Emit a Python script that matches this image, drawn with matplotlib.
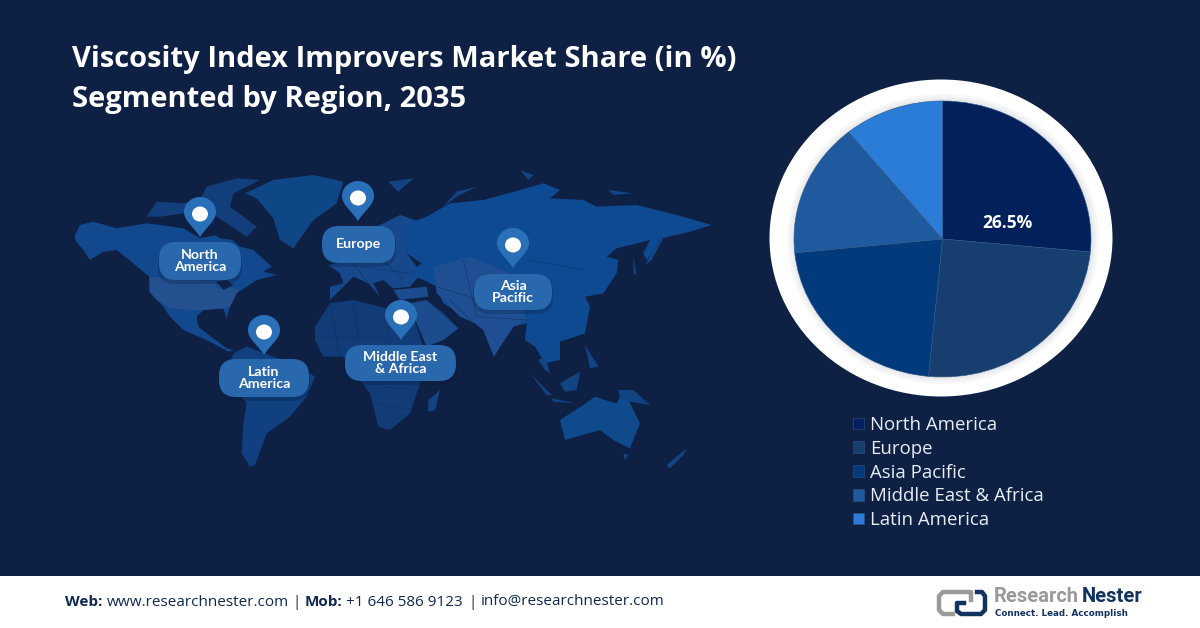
import matplotlib
matplotlib.use("Agg")
import matplotlib.pyplot as plt
from matplotlib.patches import Ellipse, FancyBboxPatch, PathPatch, Polygon, Rectangle
from matplotlib.path import Path

# pie data
regions = ["North America", "Europe", "Asia Pacific", "Middle East & Africa", "Latin America"]
shares = [26.5, 25.0, 21.9, 15.7, 10.9]
pie_colors = ["#02215a", "#163e6e", "#033a7c", "#1f5a9f", "#2a7cd6"]

title_lines = ["Viscosity Index Improvers Market Share (in %)", "Segmented by Region, 2035"]

# map pins: label, pin tip x, tip y, box left, top, right, bottom
pins = [
    ("North\nAmerica", 200, 237, 159, 242, 241, 280),
    ("Europe", 358, 221, 322, 226, 395, 263),
    ("Asia\nPacific", 513, 268, 474, 274, 552, 310),
    ("Latin\nAmerica", 264, 355, 219, 359, 309, 397),
    ("Middle East\n& Africa", 401, 340, 345, 345, 456, 381),
]

# rough outlines traced from 3x crops of the map; west crop starts at x=60, mid at x=310, east at x=470
west_canada = [(45, 225), (60, 195), (100, 185), (170, 205), (260, 190), (300, 195), (370, 205), (420, 235), (470, 225),
               (510, 235), (540, 260), (580, 270), (635, 320), (610, 335), (650, 345), (590, 360), (530, 400), (510, 440),
               (500, 475), (490, 445), (430, 450), (410, 470), (415, 500), (440, 520), (500, 565), (520, 570), (505, 575),
               (440, 540), (370, 510), (330, 470), (310, 440), (270, 395), (268, 350), (220, 310), (170, 270), (130, 275),
               (90, 300), (70, 270), (45, 240)]
west_usa = [(268, 350), (465, 365), (470, 385), (540, 385), (530, 400), (510, 440), (495, 445), (430, 450), (400, 450),
            (330, 445), (290, 420), (268, 395)]
west_arctic = [(260, 170), (290, 125), (370, 130), (420, 120), (440, 80), (530, 55), (600, 60), (520, 100), (510, 140),
               (590, 200), (560, 230), (500, 190), (440, 150), (370, 160), (300, 170)]
west_greenland = [(555, 100), (640, 60), (760, 45), (850, 65), (830, 130), (760, 180), (700, 265), (660, 240), (640, 175), (590, 115)]
west_south_am = [(520, 580), (560, 560), (640, 590), (700, 610), (765, 650), (740, 710), (690, 770), (620, 820), (585, 915),
                 (570, 920), (545, 880), (550, 790), (560, 730), (515, 670), (505, 620)]
west_dark = [[(450, 190), (500, 215), (520, 240), (480, 235), (450, 215)], [(470, 365), (500, 360), (520, 375), (490, 390)],
             [(415, 465), (470, 455), (490, 490), (440, 510)]]

mid_europe = [(55, 315), (130, 300), (200, 200), (270, 165), (330, 185), (300, 210), (290, 280), (335, 340), (300, 380),
              (250, 385), (220, 360), (190, 370), (210, 410), (175, 370), (130, 350), (95, 385), (60, 420), (60, 380), (100, 370), (90, 340)]
mid_turkey = [(250, 390), (350, 380), (355, 410), (270, 420)]
mid_africa = [(15, 500), (60, 430), (130, 420), (230, 445), (300, 440), (340, 560), (330, 670), (300, 760), (240, 810), (205, 800),
              (180, 700), (150, 660), (100, 590), (40, 590), (15, 540)]
mid_arabia = [(350, 420), (400, 460), (445, 505), (400, 540), (350, 560), (320, 490), (300, 430)]
mid_small = [[(355, 720), (390, 690), (375, 750), (355, 755)], [(235, 65), (310, 55), (265, 95)], [(400, 140), (440, 95), (500, 80), (440, 110)]]

east_asia = [(-200, 195), (-130, 170), (-60, 130), (40, 120), (150, 90), (220, 70), (270, 90), (240, 115), (340, 120), (380, 140),
             (500, 135), (620, 165), (725, 195), (660, 215), (575, 235), (530, 300), (520, 280), (540, 240), (440, 265), (410, 290),
             (445, 300), (440, 340), (400, 400), (345, 410), (360, 440), (345, 520), (270, 545), (270, 600), (225, 610), (195, 560),
             (165, 540), (170, 490), (130, 500), (90, 560), (72, 590), (40, 510), (15, 490), (-30, 460), (-80, 430), (-100, 380),
             (-180, 340), (-145, 310), (-190, 280)]
east_south = [(-110, 320), (0, 290), (120, 340), (170, 480), (130, 500), (90, 560), (72, 590), (40, 510), (15, 490), (-30, 470), (-100, 400)]
east_australia = [(270, 780), (340, 735), (375, 710), (420, 725), (440, 730), (460, 690), (510, 790), (480, 865), (430, 840), (390, 810), (285, 840)]
east_small = [[(150, 30), (190, 45), (175, 60)], [(415, 90), (490, 100), (430, 105)], [(490, 290), (500, 345), (490, 340)],
              [(525, 315), (570, 230), (580, 235), (545, 300)], [(180, 640), (245, 705), (230, 705)], [(245, 715), (320, 730), (250, 725)],
              [(270, 670), (330, 635), (320, 690), (285, 695)], [(345, 555), (385, 620), (360, 625)],
              [(445, 690), (490, 690), (540, 735), (480, 725), (450, 715)], [(460, 880), (475, 885), (465, 900)],
              [(590, 915), (650, 865), (640, 885), (600, 925)], [(205, 600), (225, 590), (240, 640), (225, 630)]]

mid_borders = [[(130, 310), (175, 370)], [(150, 320), (300, 340)], [(210, 290), (280, 360)], [(60, 430), (90, 590)], [(130, 420), (150, 580)],
               [(230, 445), (240, 550)], [(15, 530), (230, 530)], [(215, 680), (320, 690)], [(190, 730), (300, 750)], [(350, 420), (445, 505)]]
east_borders = [[(-100, 380), (60, 430)], [(-20, 300), (20, 470)], [(-60, 420), (10, 490)], [(20, 470), (170, 480)], [(180, 300), (340, 330)]]


def crop_px(points, x0):
    # 3x crop coordinates back to image pixels
    return [(x0 + x / 3, 160 + y / 3) for x, y in points]


plt.rcParams["font.family"] = ["Open Sans", "DejaVu Sans"]
bg = "#0e2145"
fig = plt.figure(figsize=(12, 6.28), dpi=100, facecolor=bg)
ax = fig.add_axes([0, 0, 1, 1])
ax.set_xlim(0, 1200)
ax.set_ylim(628, 0)
ax.axis("off")

# world map
land = [(west_canada, 60, "#12488e"), (west_arctic, 60, "#123f7c"), (west_greenland, 60, "#0f4686"), (west_south_am, 60, "#104080"),
        (west_usa, 60, "#24508f"), (mid_africa, 310, "#113c78"), (mid_europe, 310, "#17488c"), (mid_turkey, 310, "#1c4c8e"),
        (mid_arabia, 310, "#1c4c8e"), (east_asia, 470, "#0e4a92"), (east_south, 470, "#1f4f92"), (east_australia, 470, "#0f4a8c")]
for poly, x0, col in land:
    ax.add_patch(Polygon(crop_px(poly, x0), closed=True, fc=col, ec="none", zorder=1))
for poly in mid_small:
    ax.add_patch(Polygon(crop_px(poly, 310), closed=True, fc="#124484", ec="none", zorder=1))
for poly in east_small:
    ax.add_patch(Polygon(crop_px(poly, 470), closed=True, fc="#124484", ec="none", zorder=1))
for poly in west_dark:
    ax.add_patch(Polygon(crop_px(poly, 60), closed=True, fc=bg, ec="none", zorder=1.5))
for lines, x0 in [(mid_borders, 310), (east_borders, 470)]:
    for line in lines:
        xs, ys = zip(*crop_px(line, x0))
        ax.plot(xs, ys, color="#0f2f60", lw=0.5, alpha=0.7, zorder=2)

# pins and labels
for label, tip_x, tip_y, left, top, right, bottom in pins:
    ax.add_patch(FancyBboxPatch((left + 12, top + 15), right - left - 24, bottom - top - 24,
                                boxstyle="round,pad=13,rounding_size=17", fc="#08183a", alpha=0.25, ec="none", zorder=2.5))
    ax.add_patch(FancyBboxPatch((left + 12, top + 12), right - left - 24, bottom - top - 24,
                                boxstyle="round,pad=12,rounding_size=17", fc="#2a68ae", ec="none", zorder=3))
    ax.text((left + right) / 2, (top + bottom) / 2, label, color="white", fontsize=10.2, fontweight="bold",
            family="Lato", ha="center", va="center", linespacing=0.93, zorder=4)
    verts = [(tip_x, tip_y), (tip_x - 6, tip_y - 10), (tip_x - 16, tip_y - 16), (tip_x - 16, tip_y - 25),
             (tip_x - 16, tip_y - 34), (tip_x - 8, tip_y - 40), (tip_x, tip_y - 40),
             (tip_x + 8, tip_y - 40), (tip_x + 16, tip_y - 34), (tip_x + 16, tip_y - 25),
             (tip_x + 16, tip_y - 16), (tip_x + 6, tip_y - 10), (tip_x, tip_y)]
    codes = [Path.MOVETO] + [Path.CURVE4] * 12
    ax.add_patch(PathPatch(Path(verts, codes), fc="#2a70b8", ec="none", zorder=3))
    ax.add_patch(Ellipse((tip_x, tip_y - 23), 16, 15, fc="white", ec="none", zorder=4))

for i, line in enumerate(title_lines):
    ax.text(72, 59 + i * 41, line, color="white", fontsize=21, fontweight="bold", va="center", ha="left")

# white ring with a soft inner shadow
ax.add_patch(Ellipse((941, 238), 343, 317, fc="white", ec="none", zorder=2))
for grow, col in [(14, "#f7f7f8"), (9, "#eff0f2"), (4, "#e6e7ea")]:
    ax.add_patch(Ellipse((943, 239), 297 + grow, 276 + grow, fc=col, ec="none", zorder=2))

# pie, squashed like the source image
pie_ax = fig.add_axes([794 / 1200, 1 - 377 / 628, 297 / 1200, 276 / 628])
wedges, _ = pie_ax.pie(shares, colors=pie_colors, startangle=90, counterclock=False, radius=1,
                       wedgeprops={"linewidth": 0.4, "edgecolor": "#2d5587"})
pie_ax.set_aspect("auto")
pie_ax.set_xlim(-1, 1)
pie_ax.set_ylim(-1, 1)
pie_ax.text(0.44, 0.115, "26.5%", color="white", fontsize=12.5, fontweight="bold", ha="center", va="center")

ax.legend(wedges, regions, loc="upper left", bbox_to_anchor=(853, 416), bbox_transform=ax.transData, frameon=False,
          fontsize=13.4, labelcolor="#e8edf5", handlelength=0.6, handleheight=0.6, handletextpad=0.33,
          labelspacing=0.31, borderpad=0, borderaxespad=0)

# footer
ax.add_patch(Rectangle((0, 576), 1200, 52, fc="white", ec="none", zorder=5))
navy = "#10294f"
footer = [("Web:", True, 65), ("www.researchnester.com", False, 107), ("|", False, 292), ("Mob:", True, 305),
          ("+1 646 586 9123", False, 346), ("|", False, 468), ("info@researchnester.com", False, 481)]
for txt, is_bold, x in footer:
    ax.text(x, 602, txt, color=navy, fontsize=11, fontweight="bold" if is_bold else "normal",
            va="center", ha="left", zorder=6)

# logo
logo_gray = [(971, 600), (971, 592), (943, 592), (939, 596), (939, 610), (943, 614), (953, 614)]
logo_navy = [(977, 592), (982, 592), (985, 596), (985, 610), (981, 614), (961, 614), (957, 611), (957, 603), (964, 603)]
ax.plot(*zip(*logo_gray), color="#9a9a9a", lw=3.2, solid_joinstyle="round", zorder=6)
ax.plot(*zip(*logo_navy), color="#12335f", lw=3.2, solid_joinstyle="round", zorder=6)
ax.text(994, 597, "Research", color="#9a9a9a", fontsize=14.5, fontweight="bold", family="Roboto", va="center", zorder=6)
ax.text(1082, 597, "Nester", color="#12335f", fontsize=14.5, fontweight="bold", family="Roboto", va="center", zorder=6)
ax.text(995, 613, "Connect. Lead. Accomplish", color="#12335f", fontsize=6.3, fontweight="bold", family="DejaVu Sans", va="center", zorder=6)

fig.savefig("out.png", dpi=100, facecolor=fig.get_facecolor())
